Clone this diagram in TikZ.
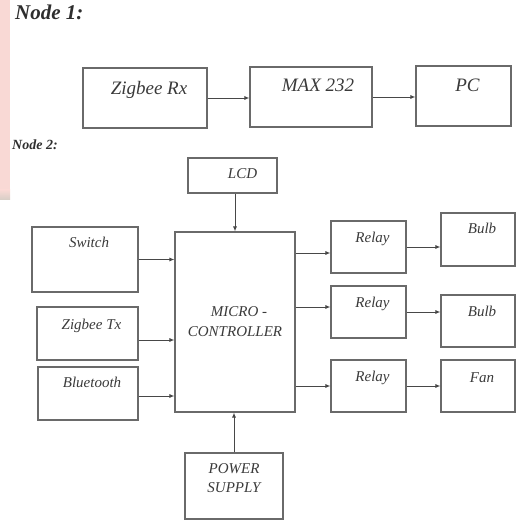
\documentclass[tikz,border=0pt]{standalone}
\usepackage{fontspec}
\setmainfont{Liberation Serif}
\newfontfamily\blkserif{Liberation Serif}[ItalicFont={Liberation Serif Italic},BoldItalicFont={Liberation Serif Bold Italic}]
\usetikzlibrary{arrows.meta,positioning,calc}
\definecolor{BlkFrame}{HTML}{6A6A6A}
\definecolor{BlkText}{HTML}{3A3A3A}
\definecolor{BlkWire}{HTML}{474747}
\definecolor{EdgePink}{HTML}{F9D9D5}
\definecolor{EdgeFade}{HTML}{D6CEC6}
\tikzset{
  blk/.style 2 args={draw=BlkFrame,line width=1.1pt,minimum width=#1,minimum height=#2,inner sep=0pt},
  tagbig/.style={anchor=center,xshift=4pt,text=BlkText,inner sep=0pt,text height=1.5ex,text depth=.25ex,font=\blkserif\itshape\fontsize{19}{23}\selectfont},
  tagsmall/.style={anchor=center,xshift=4pt,text=BlkText,inner sep=0pt,text height=1.5ex,text depth=.25ex,font=\blkserif\itshape\fontsize{15}{19}\selectfont},
  wire/.style={-{Latex[length=5pt,width=4pt]},draw=BlkWire,line width=0.9pt},
  title/.style={anchor=base west,inner sep=0pt,text=BlkText!80!black}
}

\begin{document}
\begin{tikzpicture}[x=1pt,y=-1pt]
  \useasboundingbox (0,0) rectangle (515,521);
  % pink strip at the page edge
  \fill[EdgePink] (0,0) rectangle (10,190);
  \shade[top color=EdgePink,bottom color=EdgeFade] (0,190) rectangle (10,200);

  % Node 1
  \node[title,font=\blkserif\bfseries\itshape\fontsize{21}{25}\selectfont] (head1) at (15,20) {Node 1:};
  \node[blk={124pt}{60pt},label={[tagbig,yshift=-24pt]north:Zigbee Rx}] (zrx) at (145,98) {};
  \node[blk={122pt}{60pt},label={[tagbig,xshift=3pt,yshift=-22.5pt]north:MAX 232}] (max) at (311,97) {};
  \node[blk={95pt}{60pt},label={[tagbig,yshift=-23pt]north:PC}] (pc) at (463.5,96) {};
  \draw[wire] (zrx.east) -- (zrx.east -| max.west);
  \draw[wire] (max.east) -- (max.east -| pc.west);

  % Node 2
  \node[title,font=\blkserif\bfseries\itshape\fontsize{14}{17}\selectfont] (head2) at (12,150) {Node 2:};
  \node[blk={120pt}{180pt},align=center,text=BlkText,font=\blkserif\itshape\fontsize{15}{19}\selectfont] (mcu) at (235,322) {\hspace*{8pt}MICRO -\\[1pt]CONTROLLER};
  \node[blk={89pt}{35pt},label={[tagsmall,xshift=6pt,yshift=-18pt]north:LCD}] (lcd) at (232.5,175.5) {};
  \node[blk={106pt}{65pt},label={[tagsmall,yshift=-18pt]north:Switch}] (sw) at (85,259.5) {};
  \node[blk={101pt}{53pt},label={[tagsmall,yshift=-20pt]north:Zigbee Tx}] (ztx) at (87.5,333.5) {};
  \node[blk={100pt}{53pt},label={[tagsmall,yshift=-18pt]north:Bluetooth}] (bt) at (88,393.5) {};
  \node[blk={98pt}{66pt},label={[tagsmall,xshift=-4pt,yshift=-37pt,align=center]north:POWER\\SUPPLY}] (pwr) at (234,486) {};
  \node[blk={75pt}{52pt},label={[tagsmall,yshift=-19.5pt]north:Relay}] (rly1) at (368.5,247) {};
  \node[blk={75pt}{52pt},label={[tagsmall,yshift=-19pt]north:Relay}] (rly2) at (368.5,312) {};
  \node[blk={75pt}{52pt},label={[tagsmall,yshift=-19pt]north:Relay}] (rly3) at (368.5,386) {};
  \node[blk={74pt}{53pt},label={[tagsmall,yshift=-18.5pt]north:Bulb}] (bulb1) at (478,239.5) {};
  \node[blk={74pt}{52pt},label={[tagsmall,yshift=-19.5pt]north:Bulb}] (bulb2) at (478,321) {};
  \node[blk={74pt}{52pt},label={[tagsmall,yshift=-20pt]north:Fan}] (fan) at (478,386) {};

  \draw[wire] ([xshift=2.5pt]lcd.south) -- ([xshift=2.5pt]lcd.south |- mcu.north);
  \draw[wire] (pwr.north) -- (pwr.north |- mcu.south);
  \draw[wire] (sw.east) -- (sw.east -| mcu.west);
  \draw[wire] ([yshift=-6.5pt]ztx.east) -- ([yshift=-6.5pt]ztx.east -| mcu.west);
  \draw[wire] ([yshift=-2.5pt]bt.east) -- ([yshift=-2.5pt]bt.east -| mcu.west);
  \draw[wire] ([yshift=-6pt]rly1.west -| mcu.east) -- ([yshift=-6pt]rly1.west);
  \draw[wire] ([yshift=5pt]rly2.west -| mcu.east) -- ([yshift=5pt]rly2.west);
  \draw[wire] (rly3.west -| mcu.east) -- (rly3.west);
  \draw[wire] (rly1.east) -- (rly1.east -| bulb1.west);
  \draw[wire] (rly2.east) -- (rly2.east -| bulb2.west);
  \draw[wire] (rly3.east) -- (fan.west);
\end{tikzpicture}
\end{document}
